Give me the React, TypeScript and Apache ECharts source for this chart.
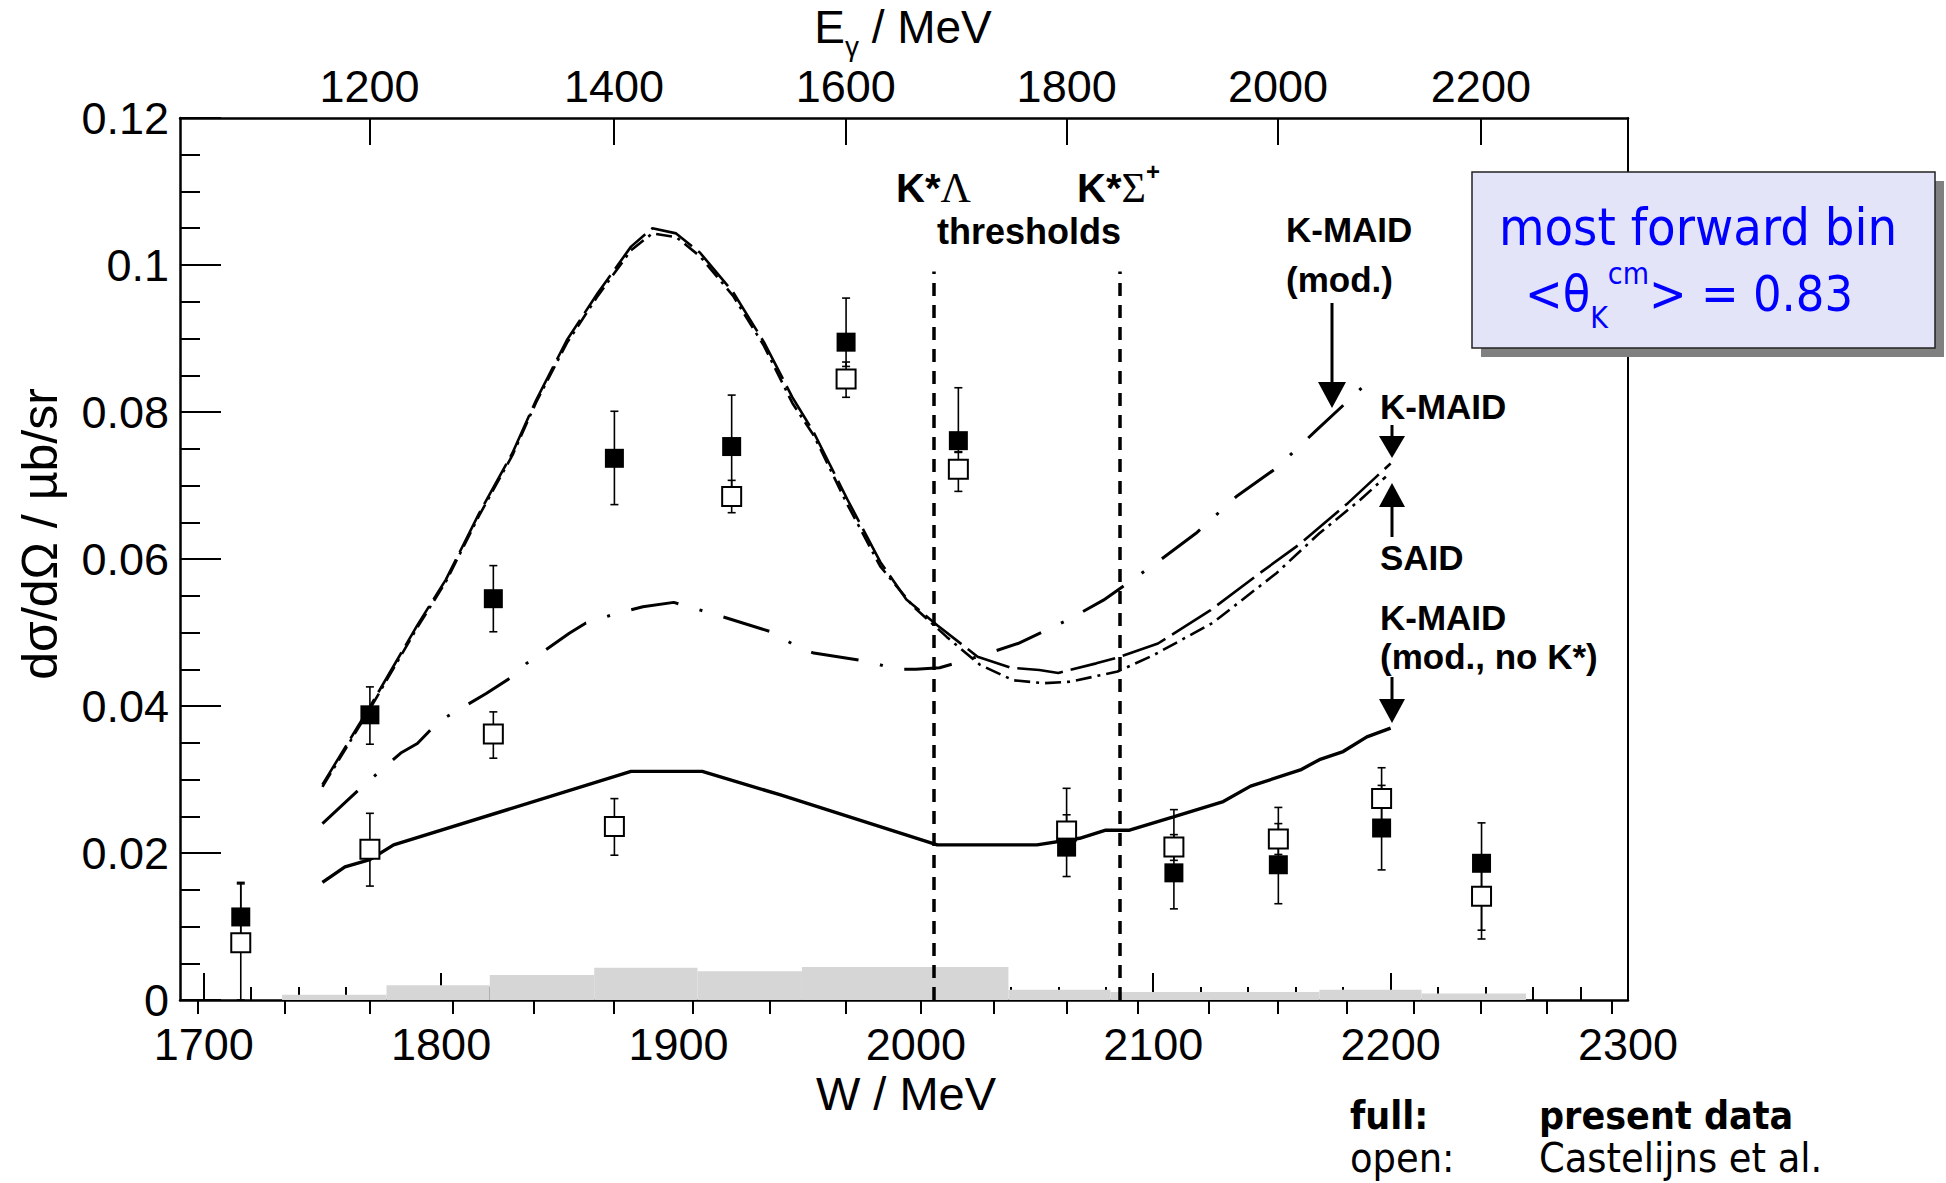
import React, { useEffect, useRef } from 'react';
import * as echarts from 'echarts';

// ---------- conversion between W (cm energy) and E_gamma (photon lab energy)
const MP = 938.27;
const wToE = (w: number) => (w * w - MP * MP) / (2 * MP);
const eToW = (e: number) => Math.sqrt(MP * MP + 2 * MP * e);

// ---------- axis ticks
const W_MAJOR = [1700, 1800, 1900, 2000, 2100, 2200, 2300];
const W_MINOR: number[] = [];
for (let w = 1700; w <= 2300; w += 20) W_MINOR.push(w);
const E_MAJOR = [1200, 1400, 1600, 1800, 2000, 2200];
const E_MINOR: number[] = [];
for (let k = 16; k <= 35; k++) E_MINOR.push((k * 200) / 3);
const Y_MAX = 0.12;

// ---------- data points (full = present data, open = Castelijns et al.)
const DATA_W = [1715.6, 1770.0, 1822.0, 1873.0, 1922.4, 1970.6, 2017.9, 2063.5, 2108.7, 2152.7, 2196.2, 2238.3];
const FULL_Y = [0.0113, 0.0388, 0.0546, 0.0737, 0.0753, 0.0895, 0.0761, 0.0208, 0.0173, 0.0184, 0.0234, 0.0186];
const FULL_LO = [0.0068, 0.0348, 0.0501, 0.0674, 0.0689, 0.0862, 0.0745, 0.0168, 0.0124, 0.0131, 0.0177, 0.0083];
const FULL_HI = [0.0158, 0.0426, 0.0591, 0.0801, 0.0823, 0.0955, 0.0833, 0.0288, 0.0259, 0.0262, 0.0292, 0.0241];
const OPEN_Y = [0.0078, 0.0205, 0.0362, 0.0236, 0.0685, 0.0845, 0.0722, 0.0230, 0.0208, 0.0219, 0.0274, 0.0141];
const OPEN_LO = [0.0000, 0.0155, 0.0329, 0.0197, 0.0663, 0.0820, 0.0692, 0.0208, 0.0190, 0.0198, 0.0235, 0.0095];
const OPEN_HI = [0.0160, 0.0254, 0.0392, 0.0274, 0.0707, 0.0868, 0.0746, 0.0252, 0.0225, 0.0240, 0.0316, 0.0186];

// ---------- model curves
const KMAID_W = [1750, 1770, 1790, 1802, 1816, 1830, 1840, 1853, 1866, 1880, 1889, 1899, 1909, 1923, 1936, 1948, 1957, 1971, 1985, 1996, 2009, 2026, 2040, 2052, 2060, 2076, 2085, 2102, 2124, 2145, 2162, 2182, 2200];
const KMAID_Y = [0.0293, 0.0399, 0.0510, 0.0572, 0.0662, 0.0744, 0.0816, 0.0898, 0.0962, 0.1025, 0.1050, 0.1043, 0.1017, 0.0963, 0.0895, 0.0820, 0.0772, 0.0682, 0.0596, 0.0545, 0.0510, 0.0467, 0.0452, 0.0449, 0.0445, 0.0458, 0.0466, 0.0485, 0.0530, 0.0581, 0.0621, 0.0676, 0.0730];
const SAID_W = [1750, 1770, 1790, 1802, 1816, 1830, 1840, 1853, 1866, 1880, 1889, 1899, 1909, 1923, 1936, 1948, 1957, 1971, 1985, 1999, 2013, 2027, 2041, 2054, 2065, 2085, 2100, 2125, 2152, 2170, 2187, 2198];
const SAID_Y = [0.0290, 0.0396, 0.0507, 0.0569, 0.0659, 0.0741, 0.0813, 0.0894, 0.0958, 0.1020, 0.1043, 0.1038, 0.1012, 0.0958, 0.0890, 0.0812, 0.0768, 0.0675, 0.0590, 0.0535, 0.0494, 0.0456, 0.0435, 0.0431, 0.0433, 0.0447, 0.0469, 0.0513, 0.0581, 0.0635, 0.0680, 0.0712];
const MOD_W = [1750, 1766, 1783, 1790, 1799, 1819, 1830, 1836, 1854, 1861, 1874, 1885, 1898, 1916, 1939, 1951, 1957, 1981, 1991, 2000, 2010, 2023, 2043, 2064, 2079, 2101, 2118, 2135, 2152, 2169, 2184, 2194];
const MOD_Y = [0.0240, 0.0288, 0.0336, 0.0349, 0.0379, 0.0417, 0.0440, 0.0458, 0.0499, 0.0513, 0.0526, 0.0535, 0.0541, 0.0524, 0.0501, 0.0479, 0.0472, 0.0460, 0.0450, 0.0450, 0.0452, 0.0464, 0.0485, 0.0517, 0.0544, 0.0594, 0.0635, 0.0685, 0.0724, 0.0776, 0.0821, 0.0852];
const NOK_W = [1750, 1759.5, 1770, 1780, 1880, 1910, 1943, 2009, 2051, 2069, 2080, 2090, 2108.5, 2129.5, 2141, 2162, 2170, 2180, 2190, 2200];
const NOK_Y = [0.0160, 0.0181, 0.0191, 0.0211, 0.0311, 0.0311, 0.0279, 0.0211, 0.0211, 0.0220, 0.0231, 0.0231, 0.0249, 0.0270, 0.0291, 0.0313, 0.0327, 0.0338, 0.0358, 0.0370];

// ---------- thresholds K*Lambda, K*Sigma+
const THRESH_W = [2007.4, 2086];
const THRESH_TOP = 0.0991;

// ---------- systematic band
const BAND_LO = [1733, 1777, 1820.5, 1864.5, 1908, 1952, 1995, 2039, 2082, 2126, 2170, 2213];
const BAND_HI = [1777, 1820.5, 1864.5, 1908, 1952, 1995, 2039, 2082, 2126, 2170, 2213, 2257];
const BAND_V = [0.0007, 0.0020, 0.0034, 0.0044, 0.0039, 0.0045, 0.0045, 0.0014, 0.0011, 0.0011, 0.0014, 0.0009];

const SANS = 'Liberation Sans';
const BOXFONT = "'DejaVu Sans Condensed', 'DejaVu Sans'";

const pairs = (xs: number[], ys: number[]) => xs.map((x, i) => [x, ys[i]]);

const errRender = (params: any, api: any) => {
  const x = api.value(0);
  const lo = api.coord([x, api.value(1)]);
  const hi = api.coord([x, api.value(2)]);
  const c = 4;
  const st = { stroke: '#000', lineWidth: 1.6 };
  return {
    type: 'group',
    children: [
      { type: 'line', shape: { x1: lo[0], y1: lo[1], x2: hi[0], y2: hi[1] }, style: st },
      { type: 'line', shape: { x1: lo[0] - c, y1: lo[1], x2: lo[0] + c, y2: lo[1] }, style: st },
      { type: 'line', shape: { x1: hi[0] - c, y1: hi[1], x2: hi[0] + c, y2: hi[1] }, style: st },
    ],
  };
};

const txt = (x: number, y: number, text: string, extra: any = {}, el: any = {}) => ({
  type: 'text',
  x,
  y,
  z: 100,
  ...el,
  style: {
    text,
    fill: '#000',
    fontFamily: SANS,
    fontSize: 35,
    fontWeight: 'bold',
    lineHeight: 30,
    align: 'left',
    textAlign: 'left',
    verticalAlign: 'middle',
    textVerticalAlign: 'middle',
    ...extra,
  },
});

const arrowDown = (x: number, y1: number, y2: number, hw: number, hl: number) => [
  { type: 'line', z: 100, shape: { x1: x, y1, x2: x, y2: y2 - hl + 2 }, style: { stroke: '#000', lineWidth: 3 } },
  { type: 'polygon', z: 100, shape: { points: [[x - hw, y2 - hl], [x + hw, y2 - hl], [x, y2]] }, style: { fill: '#000' } },
];
const arrowUp = (x: number, y1: number, y2: number, hw: number, hl: number) => [
  { type: 'line', z: 100, shape: { x1: x, y1: y1 + hl - 2, x2: x, y2 }, style: { stroke: '#000', lineWidth: 3 } },
  { type: 'polygon', z: 100, shape: { points: [[x - hw, y1 + hl], [x + hw, y1 + hl], [x, y1]] }, style: { fill: '#000' } },
];

const tickLabelStyle = { fontSize: 45, fontFamily: SANS, color: '#000' };

const option: any = {
  animation: false,
  backgroundColor: '#fff',
  grid: { left: 180, right: 318, top: 118, bottom: 183, containLabel: false },
  xAxis: [
    {
      type: 'value', position: 'bottom', min: 1690, max: 2300,
      axisLine: { show: true, onZero: false, lineStyle: { color: '#000', width: 2.5 } },
      axisTick: { show: true, inside: true, length: 27, lineStyle: { color: '#000', width: 2 }, customValues: W_MAJOR },
      axisLabel: { show: true, customValues: W_MAJOR, margin: 22, ...tickLabelStyle, formatter: (v: number) => String(Math.round(v)) },
      splitLine: { show: false },
    },
    {
      type: 'value', position: 'bottom', min: 1690, max: 2300,
      axisLine: { show: false },
      axisTick: { show: true, inside: true, length: 13, lineStyle: { color: '#000', width: 2 }, customValues: W_MINOR },
      axisLabel: { show: false },
      splitLine: { show: false },
    },
    {
      type: 'value', position: 'top', min: 1690, max: 2300,
      axisLine: { show: true, onZero: false, lineStyle: { color: '#000', width: 2.5 } },
      axisTick: { show: true, inside: true, length: 27, lineStyle: { color: '#000', width: 2 }, customValues: E_MAJOR.map(eToW) },
      axisLabel: {
        show: true, customValues: E_MAJOR.map(eToW), margin: 9, ...tickLabelStyle,
        formatter: (v: number) => String(Math.round(wToE(v) / 10) * 10),
      },
      splitLine: { show: false },
    },
    {
      type: 'value', position: 'top', min: 1690, max: 2300,
      axisLine: { show: false },
      axisTick: { show: true, inside: true, length: 14, lineStyle: { color: '#000', width: 2 }, customValues: E_MINOR.map(eToW) },
      axisLabel: { show: false },
      splitLine: { show: false },
    },
  ],
  yAxis: [
    {
      type: 'value', position: 'left', min: 0, max: Y_MAX, interval: 0.02,
      axisLine: { show: true, onZero: false, lineStyle: { color: '#000', width: 2.5 } },
      axisTick: { show: true, inside: true, length: 41, lineStyle: { color: '#000', width: 2 } },
      minorTick: { show: true, splitNumber: 4, length: 20, lineStyle: { color: '#000', width: 2 } },
      axisLabel: { show: true, margin: 11, ...tickLabelStyle, formatter: (v: number) => String(+v.toFixed(3)) },
      splitLine: { show: false },
    },
    {
      type: 'value', position: 'right', min: 0, max: Y_MAX,
      axisLine: { show: true, onZero: false, lineStyle: { color: '#000', width: 2 } },
      axisTick: { show: false }, axisLabel: { show: false }, splitLine: { show: false },
    },
  ],
  series: [
    {
      type: 'custom', name: 'syst', z: 1,
      data: BAND_LO.map((lo, i) => [lo, BAND_HI[i], BAND_V[i]]),
      encode: { x: [0, 1], y: 2 },
      renderItem: (params: any, api: any) => {
        const p1 = api.coord([api.value(0), api.value(2)]);
        const p2 = api.coord([api.value(1), 0]);
        return { type: 'rect', shape: { x: p1[0], y: p1[1], width: p2[0] - p1[0], height: p2[1] - p1[1] }, style: { fill: '#d6d6d6' } };
      },
    },
    {
      type: 'line', name: 'K-MAID', data: pairs(KMAID_W, KMAID_Y), showSymbol: false, z: 3,
      lineStyle: { color: '#000', width: 2.6, type: [46, 8] },
    },
    {
      type: 'line', name: 'SAID', data: pairs(SAID_W, SAID_Y), showSymbol: false, z: 3,
      lineStyle: { color: '#000', width: 2.6, type: [16, 6, 3, 6] },
    },
    {
      type: 'line', name: 'K-MAID (mod.)', data: pairs(MOD_W, MOD_Y), showSymbol: false, z: 3,
      lineStyle: { color: '#000', width: 3, type: [48, 22, 3, 22] },
    },
    {
      type: 'line', name: 'K-MAID (mod., no K*)', data: pairs(NOK_W, NOK_Y), showSymbol: false, z: 3,
      lineStyle: { color: '#000', width: 3.4, type: 'solid' },
      markLine: {
        silent: true, symbol: 'none', label: { show: false },
        lineStyle: { color: '#000', width: 3.5, type: [13, 9] },
        data: THRESH_W.map((t) => [{ coord: [t, 0] }, { coord: [t, THRESH_TOP] }]),
      },
    },
    {
      type: 'custom', name: 'err open', z: 4,
      data: DATA_W.map((w, i) => [w, OPEN_LO[i], OPEN_HI[i]]),
      encode: { x: 0, y: [1, 2] }, renderItem: errRender,
    },
    {
      type: 'custom', name: 'err full', z: 4,
      data: DATA_W.map((w, i) => [w, FULL_LO[i], FULL_HI[i]]),
      encode: { x: 0, y: [1, 2] }, renderItem: errRender,
    },
    {
      type: 'scatter', name: 'open', z: 5, symbol: 'rect', symbolSize: 19,
      data: pairs(DATA_W, OPEN_Y),
      itemStyle: { color: '#fff', borderColor: '#000', borderWidth: 2, opacity: 1 },
    },
    {
      type: 'scatter', name: 'full', z: 6, symbol: 'rect', symbolSize: 19,
      data: pairs(DATA_W, FULL_Y),
      itemStyle: { color: '#000', opacity: 1 },
    },
  ],
  graphic: [
    // axis titles
    txt(903, 32, '{m|E}{s|γ}{m| / MeV}', {
      align: 'center', textAlign: 'center', fontWeight: 'normal', lineHeight: undefined,
      rich: {
        m: { fontFamily: SANS, fontSize: 46, padding: [0, 0, 10, 0] },
        s: { fontFamily: SANS, fontSize: 28, verticalAlign: 'bottom' },
      },
    }),
    txt(906, 1093, 'W / MeV', { align: 'center', textAlign: 'center', fontWeight: 'normal', fontSize: 47, lineHeight: 40 }),
    txt(40, 534, 'dσ/dΩ / µb/sr', { align: 'center', textAlign: 'center', fontWeight: 'normal', fontSize: 50, lineHeight: 50 }, { rotation: Math.PI / 2 }),
    // threshold labels
    txt(896, 188, '{k|K*}{g|Λ}', {
      lineHeight: undefined,
      rich: {
        k: { fontFamily: SANS, fontWeight: 'bold', fontSize: 40 },
        g: { fontFamily: 'Liberation Serif', fontSize: 42 },
      },
    }),
    txt(1077, 184, '{k|K*}{g|Σ}{s|+}', {
      lineHeight: undefined,
      rich: {
        k: { fontFamily: SANS, fontWeight: 'bold', fontSize: 40, padding: [8, 0, 0, 0] },
        g: { fontFamily: 'Liberation Serif', fontSize: 42, padding: [8, 0, 0, 0] },
        s: { fontFamily: SANS, fontWeight: 'bold', fontSize: 24, verticalAlign: 'top' },
      },
    }),
    txt(937, 231, 'thresholds', { fontSize: 36 }),
    // model labels
    txt(1286, 229, 'K-MAID'),
    txt(1286, 279, '(mod.)'),
    txt(1380, 406, 'K-MAID'),
    txt(1380, 557, 'SAID'),
    txt(1380, 617, 'K-MAID'),
    txt(1380, 656, '(mod., no K*)'),
    ...arrowDown(1332, 303, 408, 14, 26),
    ...arrowDown(1392, 425, 458, 13, 22),
    ...arrowUp(1392, 483, 537, 13, 24),
    ...arrowDown(1392, 677, 723, 13, 24),
    // info box
    { type: 'rect', z: 100, shape: { x: 1481, y: 181, width: 463, height: 176 }, style: { fill: '#808080' } },
    { type: 'rect', z: 101, shape: { x: 1472, y: 172, width: 463, height: 176 }, style: { fill: '#e4e4f8', stroke: '#222', lineWidth: 1.5 } },
    { ...txt(1698, 227, 'most forward bin', { align: 'center', textAlign: 'center', fontWeight: 'normal', fontFamily: BOXFONT, fontSize: 52, lineHeight: 40, fill: '#0000ff' }), z: 102 },
    {
      ...txt(1689, 295, '{m|<θ}{b|K}{t|cm}{m|> = 0.83}', {
        align: 'center', textAlign: 'center', fontWeight: 'normal', fill: '#0000ff', lineHeight: undefined,
        rich: {
          m: { fontFamily: BOXFONT, fontSize: 50, color: '#0000ff', padding: [11, 0, 13, 0] },
          b: { fontFamily: BOXFONT, fontSize: 30, color: '#0000ff', verticalAlign: 'bottom' },
          t: { fontFamily: BOXFONT, fontSize: 30, color: '#0000ff', verticalAlign: 'top' },
        },
      }),
      z: 102,
    },
    // marker legend
    txt(1350, 1115, 'full:', { fontFamily: BOXFONT, fontSize: 39, lineHeight: 39 }),
    txt(1539, 1115, 'present data', { fontFamily: BOXFONT, fontSize: 39, lineHeight: 39 }),
    txt(1350, 1158, 'open:', { fontFamily: BOXFONT, fontSize: 41, lineHeight: 41, fontWeight: 'normal' }),
    txt(1539, 1158, 'Castelijns et al.', { fontFamily: BOXFONT, fontSize: 41, lineHeight: 41, fontWeight: 'normal' }),
  ],
};

export default function App() {
  const ref = useRef<HTMLDivElement>(null);
  useEffect(() => {
    if (!ref.current) return;
    const chart = echarts.init(ref.current, null, { renderer: 'svg' });
    chart.setOption(option);
    return () => chart.dispose();
  }, []);
  return (
    <div
      ref={ref}
      style={{ position: 'fixed', left: 0, top: 0, width: 1946, height: 1183, background: '#fff' }}
    />
  );
}
